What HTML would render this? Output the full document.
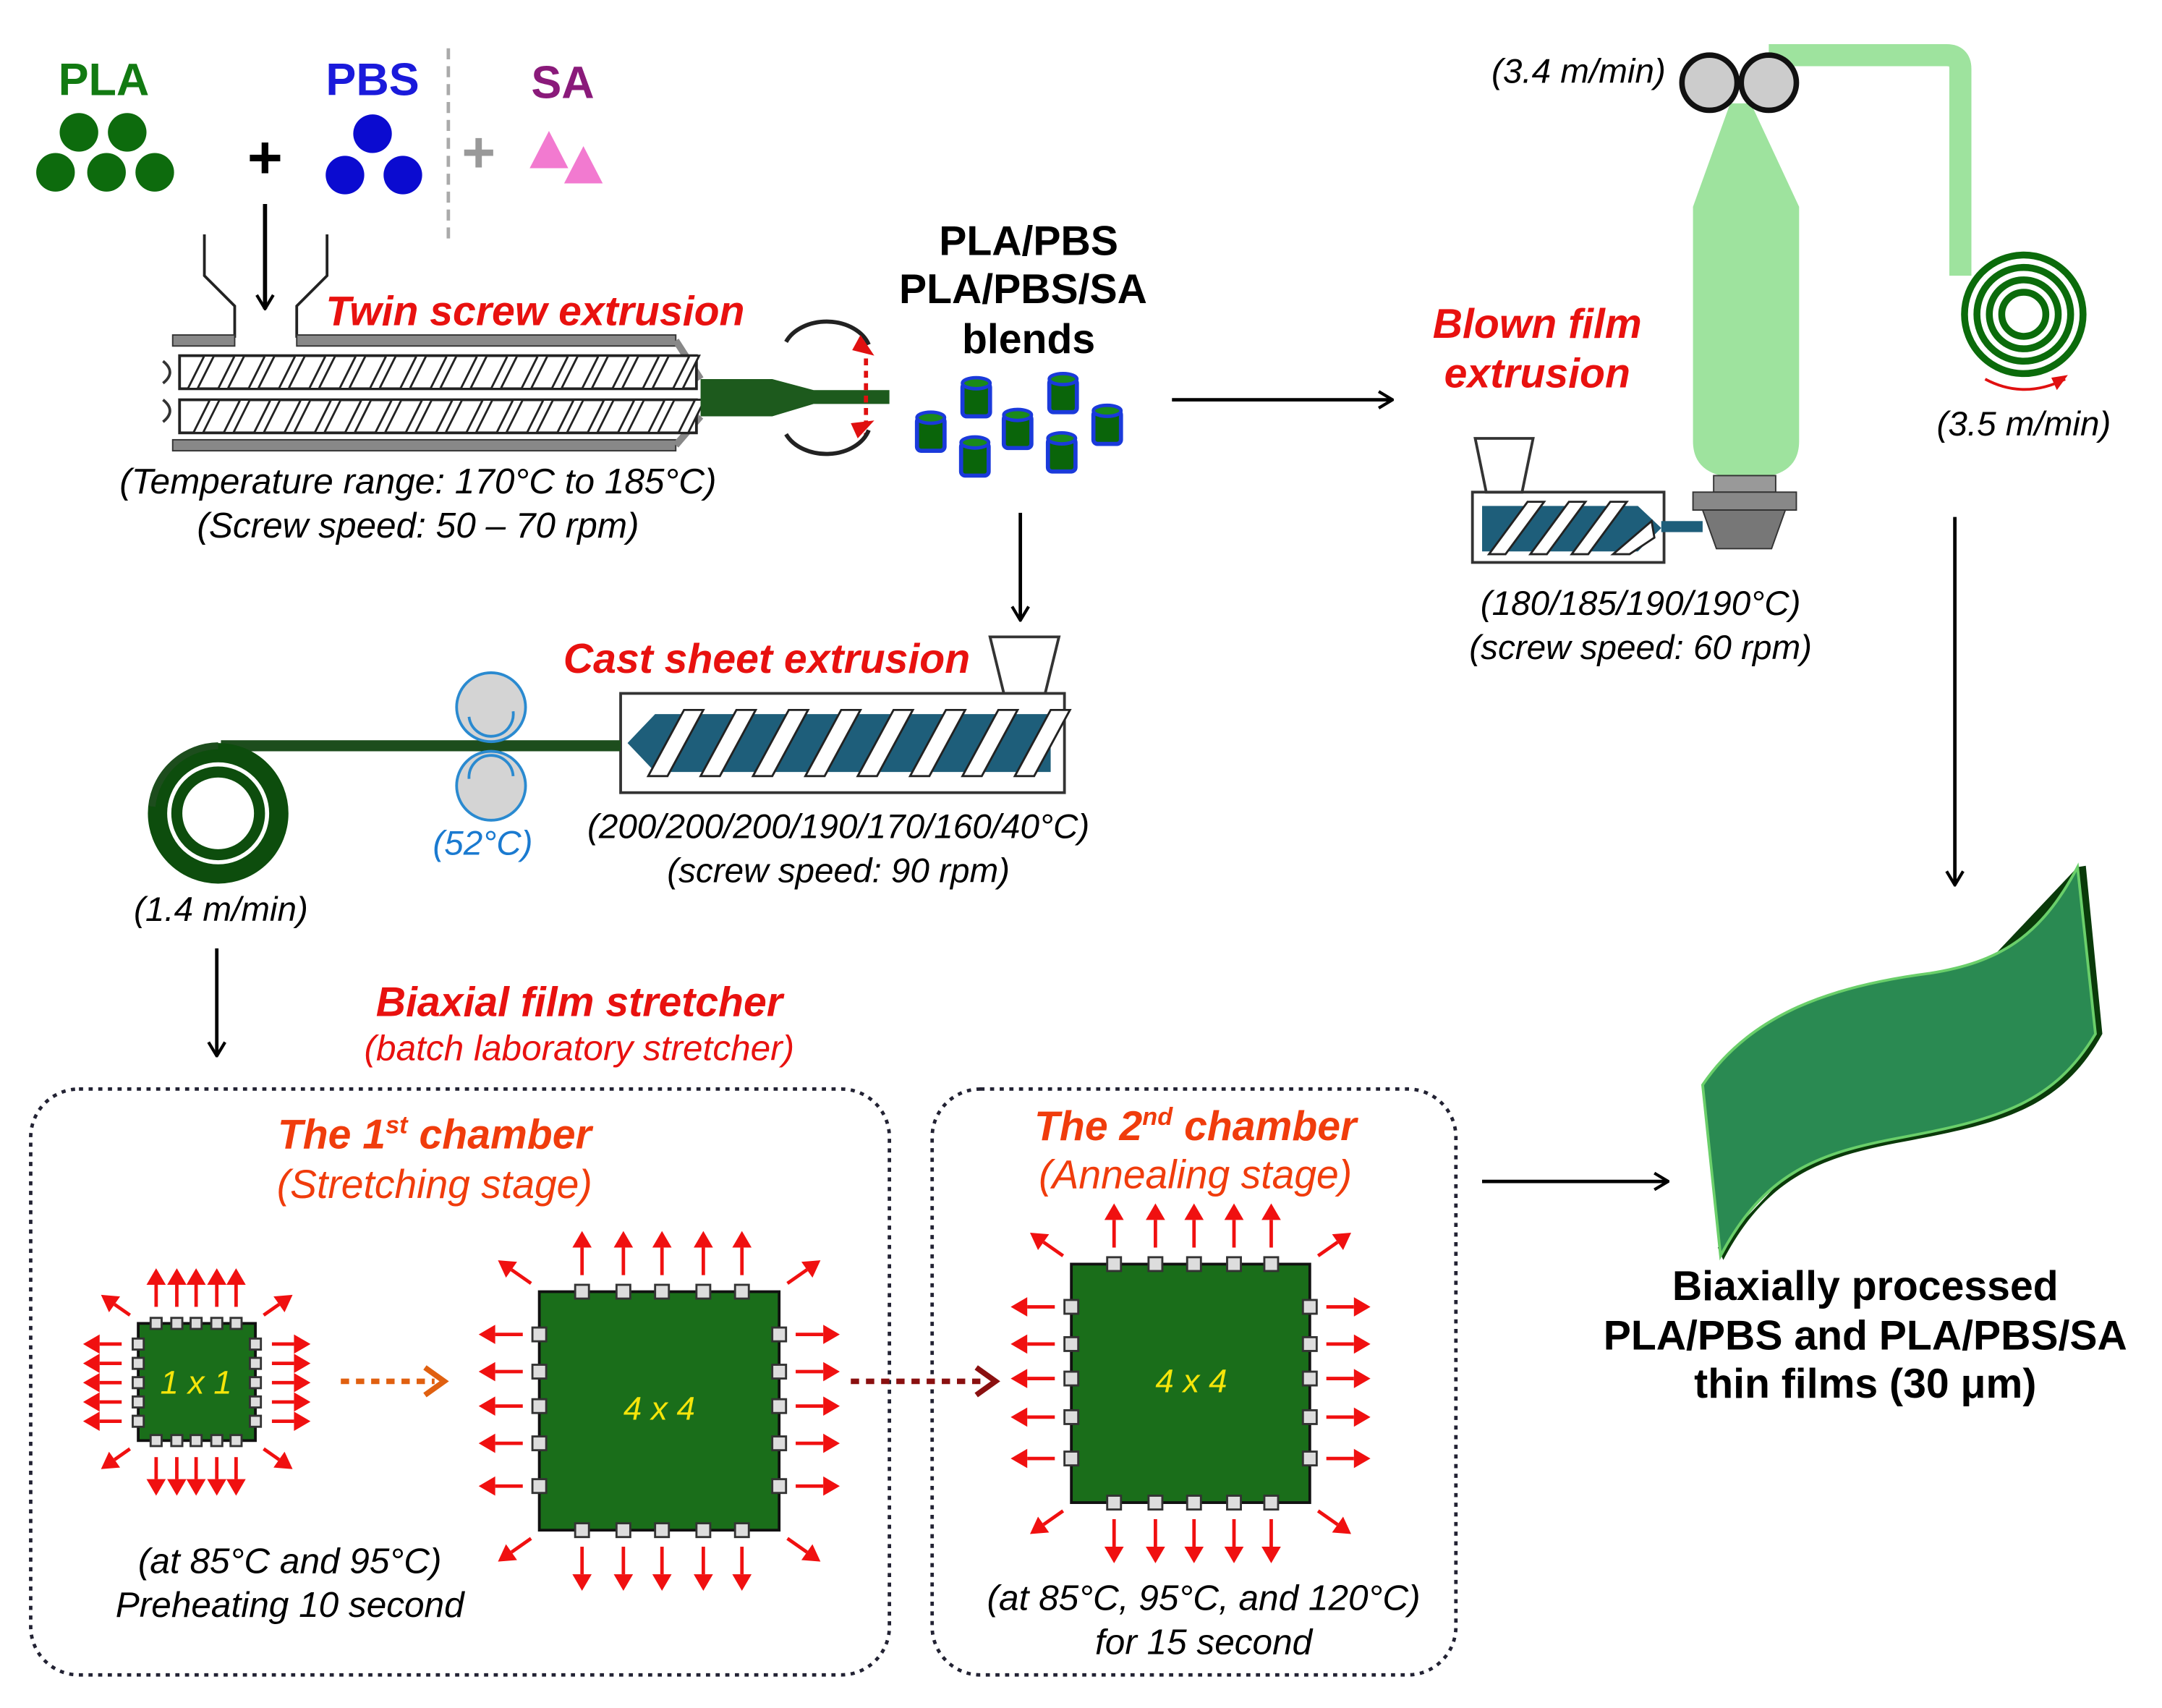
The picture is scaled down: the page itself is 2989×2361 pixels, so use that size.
<!DOCTYPE html>
<html><head><meta charset="utf-8"><style>
html,body{margin:0;padding:0;background:#fff}
svg{display:block}
text{font-family:"Liberation Sans",Arial,sans-serif}
.i{font-style:italic}
.b{font-weight:bold}
.red{fill:#e8110f;font-weight:bold;font-style:italic}
.or{fill:#f03c0c}
</style></head><body>
<svg id="s" width="2989" height="2361" viewBox="0 0 1568 1239" xmlns="http://www.w3.org/2000/svg">
<defs>
<marker id="ah" viewBox="0 0 12 14" refX="11" refY="7" markerWidth="12" markerHeight="14" orient="auto" markerUnits="userSpaceOnUse"><path d="M1,1 L11,7 L1,13" fill="none" stroke="#000" stroke-width="2.2"/></marker>
</defs>
<rect width="1568" height="1239" fill="#fff"/>
<!-- top left materials -->
<text x="75" y="69" font-size="33" class="b" fill="#127a12" text-anchor="middle">PLA</text>
<g fill="#0d6b0d"><circle cx="57" cy="96" r="14"/><circle cx="92" cy="96" r="14"/><circle cx="40" cy="125" r="14"/><circle cx="77" cy="125" r="14"/><circle cx="112" cy="125" r="14"/></g>
<text x="192" y="129" font-size="44" class="b" text-anchor="middle">+</text>
<text x="270" y="69" font-size="33" class="b" fill="#1a1adb" text-anchor="middle">PBS</text>
<g fill="#0b0bd0"><circle cx="270" cy="97" r="14"/><circle cx="250" cy="127" r="14"/><circle cx="292" cy="127" r="14"/></g>
<line x1="325" y1="35" x2="325" y2="175" stroke="#aaa" stroke-width="2.5" stroke-dasharray="8,5"/>
<text x="347" y="125" font-size="42" class="b" fill="#999" text-anchor="middle">+</text>
<text x="408" y="71" font-size="33" class="b" fill="#8a1a7a" text-anchor="middle">SA</text>
<g fill="#f27ad0"><polygon points="398,95 384,122 412,122"/><polygon points="423,106 409,133 437,133"/></g>
<!-- twin screw -->
<path d="M148,170 V200 L170,222 V245 M237,170 V200 L215,222 V245" fill="none" stroke="#222" stroke-width="2"/>
<line x1="192" y1="148" x2="192" y2="224" stroke="#000" stroke-width="3" marker-end="url(#ah)"/>
<rect x="125" y="243" width="45" height="8" fill="#888" stroke="#333"/>
<rect x="215" y="243" width="275" height="8" fill="#888" stroke="#333"/>
<rect x="125" y="319" width="365" height="8" fill="#888" stroke="#333"/>
<path d="M490,247 L508,275 M490,323 L508,302" stroke="#888" stroke-width="5"/>
<path d="M118,262 q10,8 0,16 M118,290 q10,8 0,16" fill="none" stroke="#333" stroke-width="2"/>
<g stroke="#222" stroke-width="2" fill="#fff">
<rect x="130" y="258" width="375" height="24"/><rect x="130" y="290" width="375" height="24"/>
</g>
<g id="hatch" stroke="#222" stroke-width="1.5" fill="#fff"></g>
<path d="M508,275 L560,275 L590,283 L645,283 L645,293 L590,293 L560,302 L508,302 Z" fill="#1d5a1d"/>
<line x1="628" y1="260" x2="628" y2="316" stroke="#e01010" stroke-width="3" stroke-dasharray="5,4"/>
<path d="M570,248 A32,24 0 0 1 630,250" fill="none" stroke="#222" stroke-width="3"/>
<polygon points="624,243 634,258 618,254" fill="#e01010"/>
<path d="M570,315 A32,24 0 0 0 630,312" fill="none" stroke="#222" stroke-width="3"/>
<polygon points="622,318 634,305 617,307" fill="#e01010"/>
<text x="388" y="236" font-size="30" class="red" text-anchor="middle">Twin screw extrusion</text>
<text x="303" y="358" font-size="26" class="i" text-anchor="middle">(Temperature range: 170°C to 185°C)</text>
<text x="303" y="390" font-size="26" class="i" text-anchor="middle">(Screw speed: 50 – 70 rpm)</text>
<text x="746" y="185" font-size="30" class="b" text-anchor="middle">PLA/PBS</text>
<text x="742" y="220" font-size="30" class="b" text-anchor="middle">PLA/PBS/SA</text>
<text x="746" y="256" font-size="30" class="b" text-anchor="middle">blends</text>
<g id="pel"></g>
<line x1="850" y1="290" x2="1010" y2="290" stroke="#000" stroke-width="2.5" marker-end="url(#ah)"/>
<line x1="740" y1="372" x2="740" y2="450" stroke="#000" stroke-width="2.5" marker-end="url(#ah)"/>
<!-- blown film -->
<path d="M1283,40 H1412 Q1422,40 1422,50 V200" fill="none" stroke="#9ee39e" stroke-width="16"/>
<g fill="none" stroke="#0b6b0b" stroke-width="5"><circle cx="1468" cy="228" r="43"/><circle cx="1468" cy="228" r="34"/><circle cx="1468" cy="228" r="25"/><circle cx="1468" cy="228" r="16"/></g>
<path d="M1440,275 Q1468,290 1498,275" fill="none" stroke="#e01010" stroke-width="2"/>
<polygon points="1500,272 1492,283 1488,274" fill="#e01010"/>
<path d="M1255,75 L1270,75 L1305,150 L1305,320 Q1305,340 1285,345 L1248,345 Q1228,340 1228,320 L1228,150 Z" fill="#9ee39e"/>
<circle cx="1240" cy="60" r="20" fill="#ccc" stroke="#111" stroke-width="4"/>
<circle cx="1283" cy="60" r="20" fill="#ccc" stroke="#111" stroke-width="4"/>
<rect x="1243" y="345" width="45" height="12" fill="#999" stroke="#333"/>
<rect x="1228" y="357" width="75" height="13" fill="#888" stroke="#333"/>
<path d="M1235,370 H1295 L1285,398 H1245 Z" fill="#777" stroke="#333"/>
<rect x="1068" y="357" width="139" height="51" fill="#fff" stroke="#333" stroke-width="2"/>
<path d="M1070,318 H1112 L1104,357 H1078 Z" fill="#fff" stroke="#333" stroke-width="2"/>
<path d="M1075,367 H1188 L1205,383 L1188,400 H1075 Z" fill="#1e5e7a"/>
<rect x="1205" y="378" width="30" height="8" fill="#1e5e7a"/>
<g fill="#fff" stroke="#222" stroke-width="1.5"><polygon points="1080,402 1108,364 1120,364 1092,402"/><polygon points="1110,402 1138,364 1150,364 1122,402"/><polygon points="1140,402 1168,364 1180,364 1152,402"/><polygon points="1170,402 1198,378 1200,390 1182,402"/></g>
<text x="1115" y="245" font-size="30" class="red" text-anchor="middle">Blown film</text>
<text x="1115" y="281" font-size="30" class="red" text-anchor="middle">extrusion</text>
<text x="1145" y="60" font-size="25" class="i" text-anchor="middle">(3.4 m/min)</text>
<text x="1468" y="316" font-size="25" class="i" text-anchor="middle">(3.5 m/min)</text>
<text x="1190" y="446" font-size="25" class="i" text-anchor="middle">(180/185/190/190°C)</text>
<text x="1190" y="478" font-size="25" class="i" text-anchor="middle">(screw speed: 60 rpm)</text>
<line x1="1418" y1="375" x2="1418" y2="642" stroke="#000" stroke-width="2.5" marker-end="url(#ah)"/>
<!-- cast sheet -->
<text x="556" y="488" font-size="30" class="red" text-anchor="middle">Cast sheet extrusion</text>
<path d="M718,462 H768 L758,503 H728 Z" fill="#fff" stroke="#333" stroke-width="2"/>
<rect x="450" y="503" width="322" height="72" fill="#fff" stroke="#333" stroke-width="2"/>
<path d="M475,518 H762 V560 H475 L455,539 Z" fill="#1e5e7a"/>
<g id="cscrew" fill="#fff" stroke="#222" stroke-width="1.5"></g>
<line x1="160" y1="541" x2="450" y2="541" stroke="#1d4d1d" stroke-width="8"/>
<g fill="none" stroke="#0d4d0d"><circle cx="158" cy="590" r="44" stroke-width="14"/><circle cx="158" cy="590" r="30" stroke-width="8"/></g>
<path d="M158,541 A49,49 0 0 0 110,585" fill="none" stroke="#1d4d1d" stroke-width="5"/>
<circle cx="356" cy="513" r="25" fill="#d4d4d4" stroke="#2a8ad0" stroke-width="2"/>
<circle cx="356" cy="570" r="25" fill="#d4d4d4" stroke="#2a8ad0" stroke-width="2"/>
<path d="M340,520 A16,16 0 0 0 372,516" fill="none" stroke="#2a8ad0" stroke-width="2"/>
<path d="M340,565 A16,16 0 0 1 372,563" fill="none" stroke="#2a8ad0" stroke-width="2"/>
<text x="350" y="620" font-size="25" class="i" fill="#1a7ad0" text-anchor="middle">(52°C)</text>
<text x="608" y="608" font-size="25" class="i" text-anchor="middle">(200/200/200/190/170/160/40°C)</text>
<text x="608" y="640" font-size="25" class="i" text-anchor="middle">(screw speed: 90 rpm)</text>
<text x="160" y="668" font-size="25" class="i" text-anchor="middle">(1.4 m/min)</text>
<line x1="157" y1="688" x2="157" y2="766" stroke="#000" stroke-width="2.5" marker-end="url(#ah)"/>
<!-- biaxial -->
<text x="420" y="737" font-size="30" class="red" text-anchor="middle">Biaxial film stretcher</text>
<text x="420" y="769" font-size="26" class="i" fill="#e8110f" text-anchor="middle">(batch laboratory stretcher)</text>
<rect x="22" y="790" width="623" height="425" rx="35" fill="none" stroke="#223" stroke-width="2.5" stroke-dasharray="3,4"/>
<rect x="676" y="790" width="380" height="425" rx="35" fill="none" stroke="#223" stroke-width="2.5" stroke-dasharray="3,4"/>
<text x="315" y="833" font-size="30" class="red" text-anchor="middle" style="fill:#f03c0c">The 1<tspan font-size="18" dy="-11">st</tspan><tspan dy="11"> chamber</tspan></text>
<text x="315" y="869" font-size="29" class="i or" text-anchor="middle">(Stretching stage)</text>
<text x="867" y="827" font-size="30" class="red" text-anchor="middle" style="fill:#f03c0c">The 2<tspan font-size="18" dy="-11">nd</tspan><tspan dy="11"> chamber</tspan></text>
<text x="867" y="862" font-size="29" class="i or" text-anchor="middle">(Annealing stage)</text>
<g id="arr"></g>
<rect x="100" y="960" width="85" height="85" fill="#1a6e1a" stroke="#111" stroke-width="2"/>
<rect x="391" y="937" width="174" height="173" fill="#1a6e1a" stroke="#111" stroke-width="2"/>
<rect x="777" y="917" width="173" height="173" fill="#1a6e1a" stroke="#111" stroke-width="2"/>
<g id="clamps" fill="#ddd" stroke="#333" stroke-width="1.5"></g>
<text x="142" y="1011" font-size="24" class="i" fill="#f5e50a" text-anchor="middle">1 x 1</text>
<text x="478" y="1030" font-size="24" class="i" fill="#f5e50a" text-anchor="middle">4 x 4</text>
<text x="864" y="1010" font-size="24" class="i" fill="#f5e50a" text-anchor="middle">4 x 4</text>
<line x1="247" y1="1002" x2="315" y2="1002" stroke="#e06010" stroke-width="4" stroke-dasharray="6,5"/>
<path d="M308,992 L322,1002 L308,1012" fill="none" stroke="#e06010" stroke-width="4"/>
<line x1="617" y1="1002" x2="712" y2="1002" stroke="#8a1010" stroke-width="4" stroke-dasharray="6,5"/>
<path d="M708,992 L722,1002 L708,1012" fill="none" stroke="#8a1010" stroke-width="4"/>
<text x="210" y="1141" font-size="26" class="i" text-anchor="middle">(at 85°C and 95°C)</text>
<text x="210" y="1173" font-size="26" class="i" text-anchor="middle">Preheating 10 second</text>
<text x="873" y="1168" font-size="26" class="i" text-anchor="middle">(at 85°C, 95°C, and 120°C)</text>
<text x="873" y="1200" font-size="26" class="i" text-anchor="middle">for 15 second</text>
<line x1="1075" y1="857" x2="1210" y2="857" stroke="#000" stroke-width="2.5" marker-end="url(#ah)"/>
<!-- film -->
<path d="M1507,629 L1513,628 L1525,750 C1495,805 1450,815 1382,828 C1322,839 1282,853 1250,914 L1246,905 Z" fill="#0a3a0a"/>
<path d="M1235,787 C1270,735 1330,715 1400,706 C1450,698 1480,680 1507,629 L1520,750 C1490,800 1450,812 1380,825 C1320,836 1280,850 1248,911 Z" fill="#2a8a52" stroke="#6acf6a" stroke-width="2"/>
<text x="1353" y="943" font-size="30" class="b" text-anchor="middle">Biaxially processed</text>
<text x="1353" y="979" font-size="30" class="b" text-anchor="middle">PLA/PBS and PLA/PBS/SA</text>
<text x="1353" y="1014" font-size="30" class="b" text-anchor="middle">thin films (30 μm)</text>
</svg>
<script>
var NS="http://www.w3.org/2000/svg";
function el(p,t,a){var e=document.createElementNS(NS,t);for(var k in a)e.setAttribute(k,a[k]);document.getElementById(p).appendChild(e);return e;}
for(var x=136;x<495;x+=22){el("hatch","polygon",{points:x+",282 "+(x+12)+",258 "+(x+19)+",258 "+(x+7)+",282"});el("hatch","polygon",{points:(x+4)+",314 "+(x+16)+",290 "+(x+23)+",290 "+(x+11)+",314"});}
[[708,290],[771,287],[675,315],[738,313],[803,310],[707,333],[770,330]].forEach(function(p){
el("pel","rect",{x:p[0]-10,y:p[1]-12,width:20,height:24,fill:"#0a650a",stroke:"#1a3adb","stroke-width":3,rx:3});
el("pel","ellipse",{cx:p[0],cy:p[1]-12,rx:10,ry:4,fill:"#1a8a1a",stroke:"#1a3adb","stroke-width":2.5});});
for(var x=470;x<750;x+=38){el("cscrew","polygon",{points:(x)+",563 "+(x+26)+",515 "+(x+40)+",515 "+(x+14)+",563"});}
function ar(x1,y1,x2,y2,w){var dx=x2-x1,dy=y2-y1,L=Math.sqrt(dx*dx+dy*dy),ux=dx/L,uy=dy/L,h=12,hw=7;
var bx=x2-ux*h,by=y2-uy*h;
el("arr","line",{x1:x1,y1:y1,x2:bx,y2:by,stroke:"#f01010","stroke-width":w||2.5});
el("arr","polygon",{points:x2+","+y2+" "+(bx-uy*hw)+","+(by+ux*hw)+" "+(bx+uy*hw)+","+(by-ux*hw),fill:"#f01010"});}
function sq(x0,y0,x1,y1,xs,ys,g,l,cl){
xs.forEach(function(x){ar(x,y0-g,x,y0-g-l);ar(x,y1+g,x,y1+g+l);if(cl)el("clamps","rect",{x:x-5,y:y0-5,width:10,height:10});if(cl)el("clamps","rect",{x:x-5,y:y1-5,width:10,height:10});});
ys.forEach(function(y){ar(x0-g,y,x0-g-l,y);ar(x1+g,y,x1+g+l,y);if(cl)el("clamps","rect",{x:x0-5,y:y-5,width:10,height:10});if(cl)el("clamps","rect",{x:x1-5,y:y-5,width:10,height:10});});
var d=l*0.75;ar(x0-6,y0-6,x0-6-d,y0-6-d*0.7);ar(x1+6,y0-6,x1+6+d,y0-6-d*0.7);ar(x0-6,y1+6,x0-6-d,y1+6+d*0.7);ar(x1+6,y1+6,x1+6+d,y1+6+d*0.7);}
sq(100,960,185,1045,[113,128,142,157,171],[975,989,1003,1017,1031],12,28,false);
[113,128,142,157,171].forEach(function(x){el("clamps","rect",{x:x-4,y:956,width:8,height:8});el("clamps","rect",{x:x-4,y:1041,width:8,height:8});});
[975,989,1003,1017,1031].forEach(function(y){el("clamps","rect",{x:96,y:y-4,width:8,height:8});el("clamps","rect",{x:181,y:y-4,width:8,height:8});});
sq(391,937,565,1110,[422,452,480,510,538],[968,995,1020,1047,1078],12,32,true);
sq(777,917,950,1090,[808,838,866,895,922],[948,975,1000,1028,1058],12,32,true);
</script>
</body></html>
